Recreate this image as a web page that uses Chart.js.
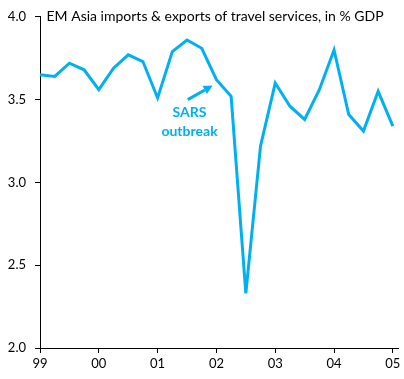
<!DOCTYPE html>
<html>
<head>
<meta charset="utf-8">
<script src="https://cdn.jsdelivr.net/npm/chart.js@4/dist/chart.umd.min.js"></script>
<style>
  html, body { margin: 0; padding: 0; background: #fff; }
  #wrap { position: relative; width: 404px; height: 379px; }
</style>
</head>
<body>
<div id="wrap"><canvas id="c" width="404" height="379"></canvas></div>
<script>
// Quarterly observations, 1999 Q1 .. 2005 Q1
const quarters = [0,1,2,3,4,5,6,7,8,9,10,11,12,13,14,15,16,17,18,19,20,21,22,23,24];
const travelShare = [3.65, 3.64, 3.72, 3.68, 3.56, 3.69, 3.77, 3.73, 3.51, 3.79, 3.86, 3.81, 3.62, 3.52, 2.33, 3.22, 3.60, 3.46, 3.38, 3.56, 3.80, 3.41, 3.31, 3.55, 3.34];
const yearTickPositions = [0, 4, 8, 12, 16, 20, 24];
const yearLabels = ['99', '00', '01', '02', '03', '04', '05'];
const titleText = 'EM Asia imports & exports of travel services, in % GDP';
const annotationLines = ['SARS', 'outbreak'];
// annotation anchors in data coordinates (quarter index, % GDP)
const annotationText = { x: 10.17, y: [3.42, 3.305] };
const annotationArrow = { from: [10.05, 3.50], to: [11.74, 3.585] };

const BLUE = '#00B0F0';
const FONT = 'Lato, "Open Sans", sans-serif';

const overlay = {
  id: 'overlay',
  afterDraw(chart) {
    const ctx = chart.ctx;
    const xs = chart.scales.x, ys = chart.scales.y;
    ctx.save();
    // title
    ctx.fillStyle = '#000';
    ctx.font = '14px ' + FONT;
    ctx.textBaseline = 'middle';
    ctx.textAlign = 'left';
    ctx.fillText(titleText, xs.left + 6.5, 16);
    // annotation text
    ctx.fillStyle = BLUE;
    ctx.font = 'bold 14px ' + FONT;
    ctx.textAlign = 'center';
    annotationLines.forEach((t, i) => {
      ctx.fillText(t, xs.getPixelForValue(annotationText.x), ys.getPixelForValue(annotationText.y[i]));
    });
    // arrow
    const x1 = xs.getPixelForValue(annotationArrow.from[0]), y1 = ys.getPixelForValue(annotationArrow.from[1]);
    const x2 = xs.getPixelForValue(annotationArrow.to[0]), y2 = ys.getPixelForValue(annotationArrow.to[1]);
    const ang = Math.atan2(y2 - y1, x2 - x1);
    const hl = 9, hw = 4.5;
    const bx = x2 - hl * Math.cos(ang), by = y2 - hl * Math.sin(ang);
    ctx.strokeStyle = BLUE;
    ctx.lineWidth = 3;
    ctx.beginPath();
    ctx.moveTo(x1, y1);
    ctx.lineTo(bx, by);
    ctx.stroke();
    ctx.beginPath();
    ctx.moveTo(x2, y2);
    ctx.lineTo(bx + hw * Math.sin(ang), by - hw * Math.cos(ang));
    ctx.lineTo(bx - hw * Math.sin(ang), by + hw * Math.cos(ang));
    ctx.closePath();
    ctx.fillStyle = BLUE;
    ctx.fill();
    ctx.restore();
  }
};

new Chart(document.getElementById('c'), {
  type: 'line',
  data: {
    datasets: [{
      data: quarters.map((q, i) => ({ x: q, y: travelShare[i] })),
      borderColor: BLUE,
      borderWidth: 3,
      pointRadius: 0,
      tension: 0,
      fill: false
    }]
  },
  options: {
    responsive: false,
    animation: false,
    devicePixelRatio: 1,
    layout: { padding: { top: 15, right: 6, left: 0, bottom: 0 } },
    plugins: { legend: { display: false }, tooltip: { enabled: false }, title: { display: false } },
    scales: {
      x: {
        type: 'linear',
        min: 0,
        max: 24.35,
        afterBuildTicks(scale) { scale.ticks = yearTickPositions.map(v => ({ value: v })); },
        afterFit(scale) { scale.height = 31; },
        ticks: {
          autoSkip: false,
          maxRotation: 0,
          padding: 3,
          color: '#000',
          font: { family: FONT, size: 13 },
          callback: (v) => { const i = yearTickPositions.indexOf(v); return i >= 0 ? yearLabels[i] : ''; }
        },
        grid: { drawOnChartArea: false, drawTicks: true, tickLength: 5, color: '#000', tickColor: '#000', lineWidth: 1 },
        border: { display: true, color: '#000', width: 1 }
      },
      y: {
        min: 2,
        max: 4,
        afterFit(scale) { scale.width = 40; },
        ticks: {
          stepSize: 0.5,
          padding: 9,
          color: '#000',
          font: { family: FONT, size: 13 },
          callback: (v) => Number(v).toFixed(1)
        },
        grid: { drawOnChartArea: false, drawTicks: true, tickLength: 5, color: '#000', tickColor: '#000', lineWidth: 1 },
        border: { display: true, color: '#000', width: 1 }
      }
    }
  },
  plugins: [overlay]
});
</script>
</body>
</html>
